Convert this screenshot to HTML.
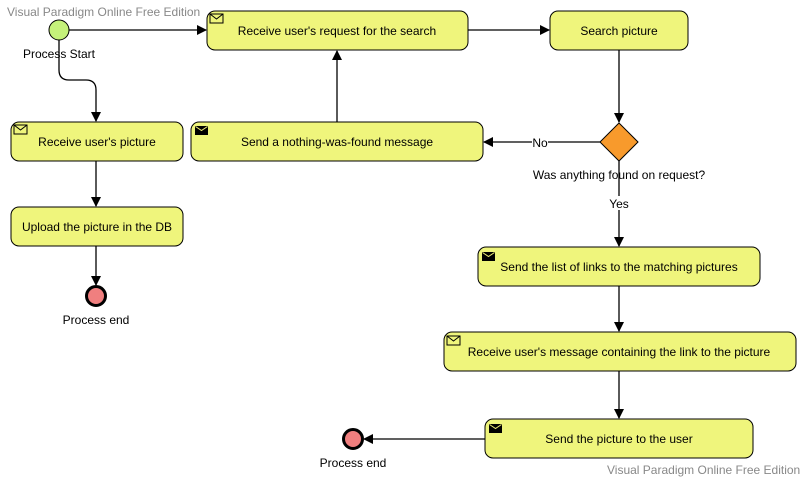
<!DOCTYPE html>
<html><head><style>body{margin:0;background:#fff}svg{display:block}text{font-family:"Liberation Sans",sans-serif;font-size:12px}</style></head><body>
<svg width="806" height="480" viewBox="0 0 806 480" xmlns="http://www.w3.org/2000/svg">
<defs><marker id="a" markerWidth="10" markerHeight="10" refX="9" refY="5" orient="auto" markerUnits="userSpaceOnUse"><path d="M0,0 L10,5 L0,10 z" fill="#000"/></marker>
<g id="env"><rect x="0" y="0" width="13" height="9" fill="none" stroke="#000"/><path d="M0,0 L6.5,5 L13,0" fill="none" stroke="#000"/></g>
<g id="envb"><rect x="0" y="0" width="13" height="9" fill="#000"/><path d="M0.5,0.5 L6.5,4.5 L12.5,0.5" fill="none" stroke="#ee7"/></g></defs>
<g stroke="#000" stroke-width="1.3" fill="none">
<path d="M69,30 H206" marker-end="url(#a)"/>
<path d="M59,40 V70 Q59,80 69,80 H86 Q96,80 96,90 V121" marker-end="url(#a)"/>
<path d="M468,30 H549" marker-end="url(#a)"/>
<path d="M619,50 V122" marker-end="url(#a)"/>
<path d="M600,142 H484" marker-end="url(#a)"/>
<path d="M619,161 V246" marker-end="url(#a)"/>
<path d="M337,122 V51" marker-end="url(#a)"/>
<path d="M96,161 V206" marker-end="url(#a)"/>
<path d="M96,246 V285" marker-end="url(#a)"/>
<path d="M619,286 V331" marker-end="url(#a)"/>
<path d="M619,371 V418" marker-end="url(#a)"/>
<path d="M485,439 H364" marker-end="url(#a)"/>
</g>
<g fill="#eff57c" stroke="#000" stroke-width="1">
<rect x="207" y="11" width="261" height="39" rx="8"/>
<rect x="550" y="11" width="138" height="39" rx="8"/>
<rect x="11" y="122" width="172" height="39" rx="8"/>
<rect x="191" y="122" width="292" height="39" rx="8"/>
<rect x="11" y="207" width="172" height="39" rx="8"/>
<rect x="478" y="247" width="282" height="39" rx="8"/>
<rect x="444" y="332" width="352" height="39" rx="8"/>
<rect x="485" y="419" width="268" height="39" rx="8"/>
</g>
<path d="M619,123 L638,142 L619,161 L600,142 z" fill="#f89a2c" stroke="#000"/>
<circle cx="59" cy="30" r="10" fill="#c5f27a" stroke="#000"/>
<circle cx="96" cy="296" r="9.5" fill="#f07f7f" stroke="#000" stroke-width="3"/>
<circle cx="353" cy="439" r="9.5" fill="#f07f7f" stroke="#000" stroke-width="3"/>
<use href="#env" x="210" y="14"/><use href="#env" x="14" y="125"/><use href="#envb" x="195" y="126"/>
<use href="#envb" x="482" y="252"/><use href="#env" x="447" y="336"/><use href="#envb" x="489" y="424"/>
<rect x="532" y="136" width="16" height="13" fill="#fff"/>
<rect x="608" y="196" width="22" height="14" fill="#fff"/>
<g text-anchor="middle" fill="#000">
<text x="337" y="35">Receive user's request for the search</text>
<text x="619" y="35">Search picture</text>
<text x="97" y="146">Receive user's picture</text>
<text x="337" y="146">Send a nothing-was-found message</text>
<text x="97" y="231">Upload the picture in the DB</text>
<text x="619" y="271">Send the list of links to the matching pictures</text>
<text x="619" y="356">Receive user's message containing the link to the picture</text>
<text x="619" y="443">Send the picture to the user</text>
<text x="59" y="58">Process Start</text>
<text x="96" y="324">Process end</text>
<text x="353" y="467">Process end</text>
<text x="619" y="179">Was anything found on request?</text>
<text x="540" y="147" font-size="11">No</text>
<text x="619" y="208" font-size="11">Yes</text>
</g>
<text x="7" y="16" fill="#888" font-size="12">Visual Paradigm Online Free Edition</text>
<text x="607" y="474" fill="#888" font-size="12">Visual Paradigm Online Free Edition</text>
</svg>
</body></html>
